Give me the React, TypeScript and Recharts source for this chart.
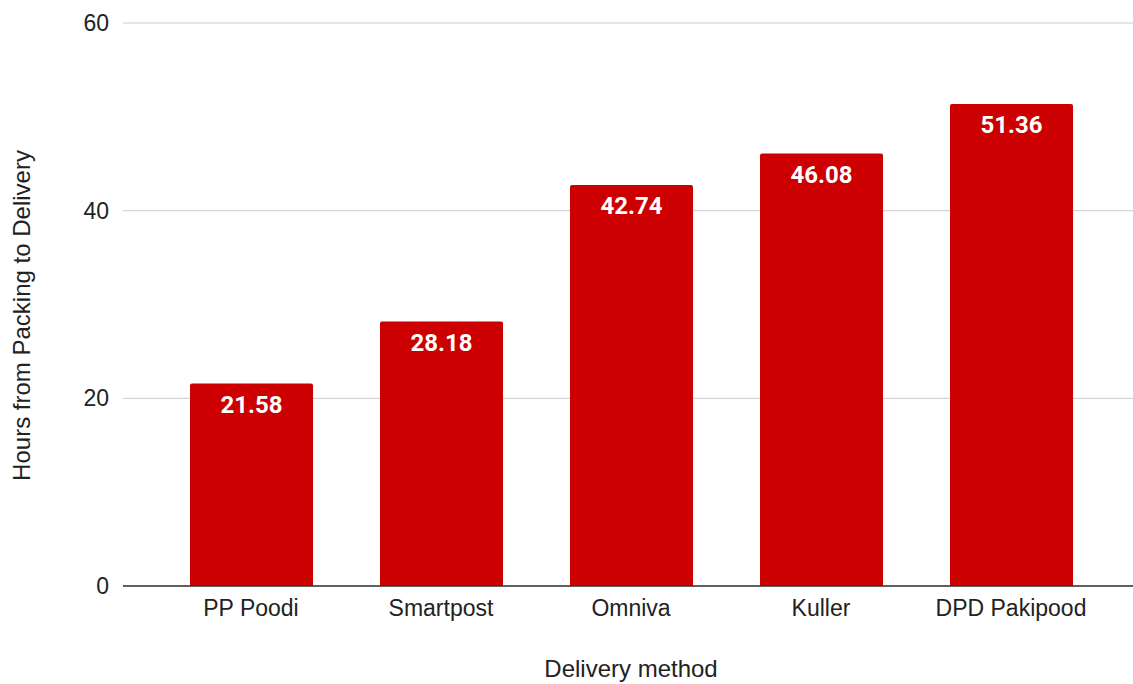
import { Bar, BarChart, CartesianGrid, LabelList, XAxis, YAxis } from "recharts";

const METHODS = ["PP Poodi", "Smartpost", "Omniva", "Kuller", "DPD Pakipood"];
const HOURS = [21.58, 28.18, 42.74, 46.08, 51.36];
const Y_TICKS = [0, 20, 40, 60];

const BAR_COLOR = "#cc0000";
const GRID_COLOR = "#cccccc";
const AXIS_COLOR = "#333333";
const TEXT_COLOR = "#222222";
const FONT = "'Liberation Sans', Arial, sans-serif";

const data = METHODS.map((method, i) => ({ method, hours: HOURS[i] }));

type ViewBox = { x: number; y: number; width: number; height: number };

function YTitle({ viewBox }: { viewBox?: ViewBox }) {
  if (!viewBox) return null;
  const cy = viewBox.y + viewBox.height / 2 + 11;
  return (
    <text
      x={30}
      y={cy}
      transform={`rotate(-90, 30, ${cy})`}
      textAnchor="middle"
      fontSize={24}
      fontFamily={FONT}
      fill={TEXT_COLOR}
    >
      Hours from Packing to Delivery
    </text>
  );
}

function XTitle({ viewBox }: { viewBox?: ViewBox }) {
  if (!viewBox) return null;
  return (
    <text
      x={631}
      y={677}
      textAnchor="middle"
      fontSize={24}
      fontFamily={FONT}
      fill={TEXT_COLOR}
    >
      Delivery method
    </text>
  );
}

export default function App() {
  return (
    <div style={{ position: "absolute", left: 0, top: 0, background: "#fff" }}>
      <BarChart
        width={1133}
        height={684}
        data={data}
        margin={{ top: 23, right: 0, bottom: 68, left: 0 }}
      >
        <CartesianGrid stroke={GRID_COLOR} vertical={false} />
        <XAxis
          dataKey="method"
          height={30}
          padding={{ left: 33, right: 27 }}
          axisLine={{ stroke: AXIS_COLOR, strokeWidth: 1.5 }}
          tickLine={false}
          tickMargin={8}
          tick={{ fontSize: 23, fill: TEXT_COLOR, fontFamily: FONT }}
          interval={0}
          label={<XTitle />}
        />
        <YAxis
          width={123}
          domain={[0, 60]}
          ticks={Y_TICKS}
          axisLine={false}
          tickLine={false}
          tickMargin={8}
          tick={{ fontSize: 23, fill: TEXT_COLOR, fontFamily: FONT }}
          label={<YTitle />}
        />
        <Bar
          dataKey="hours"
          fill={BAR_COLOR}
          barSize={123}
          radius={[2, 2, 0, 0]}
          isAnimationActive={false}
        >
          <LabelList
            dataKey="hours"
            position="insideTop"
            offset={12}
            fill="#ffffff"
            fontSize={24}
            fontWeight="bold"
            fontFamily="Roboto, sans-serif"
            formatter={(v: number) => v.toFixed(2)}
          />
        </Bar>
      </BarChart>
    </div>
  );
}
